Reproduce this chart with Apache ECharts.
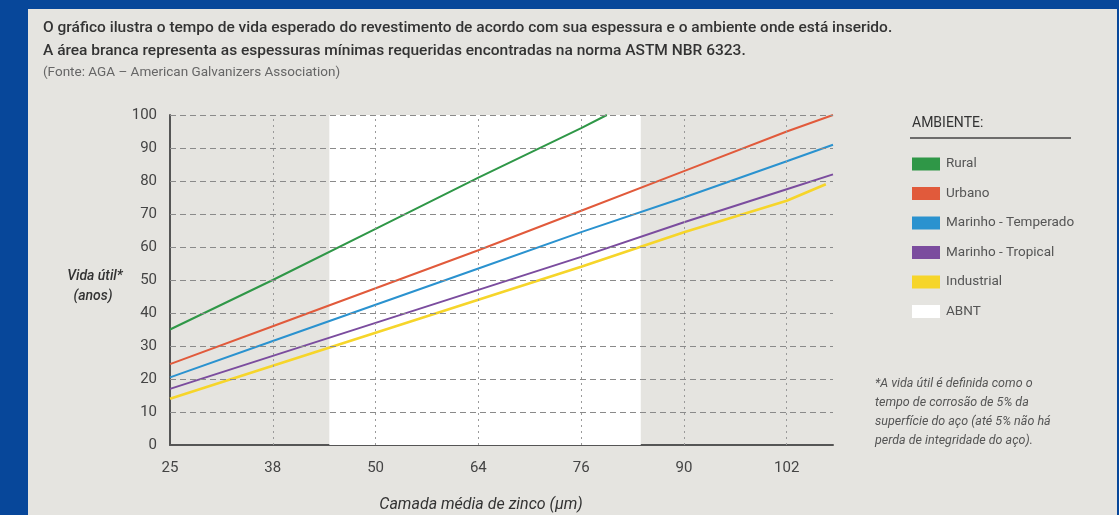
<!DOCTYPE html>
<html>
<head>
<meta charset="utf-8">
<script src="https://cdn.jsdelivr.net/npm/echarts@6/dist/echarts.min.js"></script>
<style>
    html, body { margin: 0; padding: 0; background: #e5e4e0; }
    #chart { width: 1119px; height: 515px; }
</style>
</head>
<body>
<div id="chart"></div>
<script>
    // x axis is drawn by tick index: ticks are evenly spaced in the source
    const xTickLabels = ['25', '38', '50', '64', '76', '90', '102'];
    const yTicks = [10, 20, 30, 40, 50, 60, 70, 80, 90, 100];
    const xGridTicks = [1, 2, 3, 4, 5, 6];

    // [tick index, years]
    const rural = [[0, 35], [1, 50], [2, 65.5], [3, 81], [4, 96], [4.25, 100]];
    const urbano = [[0, 24.5], [1, 36], [2, 47.5], [3, 59], [4, 71], [5, 83], [6, 95], [6.45, 100]];
    const temperado = [[0, 20.5], [1, 31.5], [2, 42.5], [3, 53.5], [4, 64.5], [5, 75], [6, 86], [6.45, 91]];
    const tropical = [[0, 17], [1, 27], [2, 37], [3, 47], [4, 57], [5, 67.5], [6, 77.5], [6.45, 82]];
    const industrial = [[0, 14], [1, 24], [2, 34], [3, 44], [4, 54], [5, 64.5], [6, 74], [6.38, 79]];

    // white band (ABNT minimum thickness), in tick index units
    const abntRange = [1.55, 4.58];

    const fontFamily = 'Roboto, "Noto Sans", sans-serif';
    const blue = '#07479a';

    let chart = echarts.init(document.getElementById('chart'));

    function lineSeries(name, data, color, width) {
        return {
            name: name,
            type: 'line',
            data: data,
            symbol: 'none',
            animation: false,
            z: 3,
            itemStyle: {color: color},
            lineStyle: {color: color, width: width}
        };
    }

    let option = {
        backgroundColor: '#e5e4e0',
        animation: false,
        textStyle: {fontFamily: fontFamily},
        grid: {left: 170, right: 286, top: 115, bottom: 70, containLabel: false},
        xAxis: {
            type: 'value',
            min: 0,
            max: 6.45,
            interval: 1,
            axisLine: {show: true, lineStyle: {color: '#555', width: 2}},
            axisTick: {show: false},
            splitLine: {show: false},
            axisLabel: {
                color: '#444',
                fontSize: 15,
                margin: 16,
                showMaxLabel: false,
                formatter: v => xTickLabels[v] !== undefined ? xTickLabels[v] : ''
            }
        },
        yAxis: {
            type: 'value',
            min: 0,
            max: 100,
            interval: 10,
            axisLine: {show: true, lineStyle: {color: '#555', width: 2}},
            axisTick: {show: false},
            splitLine: {show: false},
            axisLabel: {color: '#444', fontSize: 15, margin: 13}
        },
        legend: {
            orient: 'vertical',
            left: 912,
            top: 157,
            padding: 0,
            icon: 'rect',
            itemWidth: 28,
            itemHeight: 13,
            itemGap: 15.5,
            selectedMode: false,
            textStyle: {color: '#555', fontSize: 13.5, fontFamily: fontFamily, padding: [0, 0, 0, 1]},
            data: ['Rural', 'Urbano', 'Marinho - Temperado', 'Marinho - Tropical', 'Industrial', 'ABNT']
        },
        series: [
            {
                name: 'ABNT',
                type: 'line',
                data: [],
                z: 0,
                itemStyle: {color: '#ffffff'},
                markArea: {
                    silent: true,
                    itemStyle: {color: '#ffffff'},
                    data: [[{xAxis: abntRange[0], yAxis: 0}, {xAxis: abntRange[1], yAxis: 100}]]
                }
            },
            {
                name: 'gridlines',
                type: 'line',
                data: [],
                z: 1,
                markLine: {
                    silent: true,
                    symbol: 'none',
                    label: {show: false},
                    data: yTicks.map(v => ({
                        yAxis: v,
                        lineStyle: {color: '#8a8a8a', type: [6, 4], width: 1}
                    })).concat(xGridTicks.map(v => ({
                        xAxis: v,
                        lineStyle: {color: '#9a9a9a', type: [2, 4], width: 1}
                    })))
                }
            },
            lineSeries('Rural', rural, '#2f9747', 2),
            lineSeries('Urbano', urbano, '#e15a3b', 2),
            lineSeries('Marinho - Temperado', temperado, '#2a92cf', 2),
            lineSeries('Marinho - Tropical', tropical, '#7b4c9e', 2),
            lineSeries('Industrial', industrial, '#f6d52a', 2.6)
        ],
        graphic: [
            {type: 'rect', left: 0, top: 0, shape: {width: 28, height: 515}, style: {fill: blue}, silent: true},
            {type: 'rect', left: 0, top: 0, shape: {width: 1119, height: 9}, style: {fill: blue}, silent: true},
            {type: 'rect', left: 1117, top: 0, shape: {width: 2, height: 515}, style: {fill: blue}, silent: true},
            {
                type: 'text', left: 43, top: 20,
                style: {
                    text: 'O gráfico ilustra o tempo de vida esperado do revestimento de acordo com sua espessura e o ambiente onde está inserido.',
                    fill: '#333', font: '500 15.5px ' + fontFamily
                }
            },
            {
                type: 'text', left: 43, top: 43,
                style: {
                    text: 'A área branca representa as espessuras mínimas requeridas encontradas na norma ASTM NBR 6323.',
                    fill: '#333', font: '500 15.5px ' + fontFamily
                }
            },
            {
                type: 'text', left: 43, top: 66,
                style: {
                    text: '(Fonte: AGA – American Galvanizers Association)',
                    fill: '#666', font: '13.5px ' + fontFamily
                }
            },
            {
                type: 'text', left: 912, top: 116,
                style: {text: 'AMBIENTE:', fill: '#333', font: '14px ' + fontFamily}
            },
            {
                type: 'line', silent: true,
                shape: {x1: 910, y1: 138, x2: 1071, y2: 138},
                style: {stroke: '#444', lineWidth: 1.5}
            },
            {
                type: 'text', x: 95, y: 276,
                style: {
                    text: 'Vida útil*', fill: '#333', font: 'italic 500 14px ' + fontFamily,
                    align: 'center', verticalAlign: 'middle'
                }
            },
            {
                type: 'text', x: 93, y: 296,
                style: {
                    text: '(anos)', fill: '#333', font: 'italic 500 14px ' + fontFamily,
                    align: 'center', verticalAlign: 'middle'
                }
            },
            {
                type: 'text', x: 481, y: 505,
                style: {
                    text: 'Camada média de zinco (µm)', fill: '#333', font: 'italic 16px ' + fontFamily,
                    align: 'center', verticalAlign: 'middle'
                }
            },
            {
                type: 'text', left: 875, top: 375,
                style: {
                    text: '*A vida útil é definida como o\ntempo de corrosão de 5% da\nsuperfície do aço (até 5% não há\nperda de integridade do aço).',
                    fill: '#555', font: 'italic 12.5px ' + fontFamily, lineHeight: 18.7
                }
            }
        ]
    };

    chart.setOption(option, true);
</script>
</body>
</html>
